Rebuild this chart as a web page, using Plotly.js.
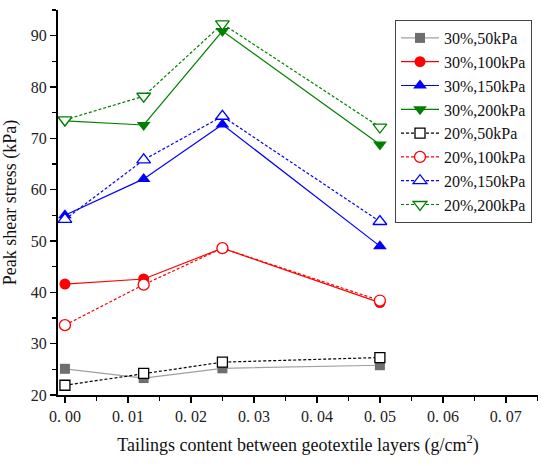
<!DOCTYPE html>
<html>
<head>
<meta charset="utf-8">
<script src="https://cdn.plot.ly/plotly-3.0.1.min.js"></script>
<style>
html,body{margin:0;padding:0;background:#fff}
#chart{width:550px;height:466px}
</style>
</head>
<body>
<div id="chart"></div>
<script>
// Tailings content (g/cm2)
var tailings = [0, 0.0125, 0.025, 0.05];

var s30_50  = [25.1, 23.3, 25.2, 25.8];
var s30_100 = [41.6, 42.6, 48.6, 38.0];
var s30_150 = [55.0, 62.1, 72.7, 49.0];
var s30_200 = [73.4, 72.6, 90.9, 68.8];
var s20_50  = [21.9, 24.2, 26.4, 27.3];
var s20_100 = [33.6, 41.5, 48.6, 38.4];
var s20_150 = [54.2, 65.8, 74.3, 53.8];
var s20_200 = [73.6, 78.2, 92.3, 72.2];

var seriesNames = ['30%,50kPa','30%,100kPa','30%,150kPa','30%,200kPa',
                   '20%,50kPa','20%,100kPa','20%,150kPa','20%,200kPa'];

var xTickVals = [0, 0.01, 0.02, 0.03, 0.04, 0.05, 0.06, 0.07];
var xTickText = ['0. 00','0. 01','0. 02','0. 03','0. 04','0. 05','0. 06','0. 07'];
var yTickVals = [20, 30, 40, 50, 60, 70, 80, 90];

var FONT = '"Liberation Serif", "Times New Roman", serif';

function solid(y, name, lineColor, markerColor, symbol, size) {
  return {x: tailings, y: y, name: name, type: 'scatter', mode: 'lines+markers',
    line: {color: lineColor, width: 1.2},
    marker: {symbol: symbol, size: size, color: markerColor, line: {width: 0}}};
}
function open(y, name, color, symbol, size) {
  return {x: tailings, y: y, name: name, type: 'scatter', mode: 'lines+markers',
    line: {color: color, width: 1.2, dash: '3px,2px'},
    marker: {symbol: symbol, size: size, color: '#ffffff', line: {color: color, width: 1.3}}};
}

var data = [
  solid(s30_50,  seriesNames[0], '#a0a0a0', '#6e6e6e', 'square', 10),
  solid(s30_100, seriesNames[1], '#ff0000', '#ff0000', 'circle', 11),
  solid(s30_150, seriesNames[2], '#0000ff', '#0000ff', 'triangle-up', 12),
  solid(s30_200, seriesNames[3], '#008000', '#008000', 'triangle-down', 12),
  open(s20_50,  seriesNames[4], '#000000', 'square', 10),
  open(s20_100, seriesNames[5], '#ff0000', 'circle', 11),
  open(s20_150, seriesNames[6], '#0000ff', 'triangle-up', 12),
  open(s20_200, seriesNames[7], '#008000', 'triangle-down', 12)
];

var layout = {
  width: 550, height: 466,
  margin: {l: 58, r: 12, t: 10, b: 71},
  paper_bgcolor: '#ffffff', plot_bgcolor: '#ffffff',
  font: {family: FONT, size: 16, color: '#222'},
  showlegend: true,
  legend: {x: 0.9875, xanchor: 'right', y: 0.974, yanchor: 'top',
    bgcolor: '#ffffff', bordercolor: '#444', borderwidth: 1, itemwidth: 38,
    font: {family: FONT, size: 16, color: '#111'}, tracegroupgap: 0},
  xaxis: {
    range: [-0.0011, 0.0751], tickmode: 'array', tickvals: xTickVals, ticktext: xTickText,
    showline: true, linecolor: '#000', linewidth: 2, mirror: false,
    ticks: 'outside', ticklen: 6, tickwidth: 1.5, tickcolor: '#000',
    minor: {dtick: 0.005, ticks: 'outside', ticklen: 4, tickwidth: 1.5, tickcolor: '#000', showgrid: false},
    showgrid: false, zeroline: false,
    tickfont: {family: FONT, size: 16, color: '#222'},
    title: {text: 'Tailings content between geotextile layers (g/cm<sup>2</sup>)', font: {family: FONT, size: 18, color: '#111'}, standoff: 14}
  },
  yaxis: {
    range: [20, 95], tickmode: 'array', tickvals: yTickVals,
    showline: true, linecolor: '#000', linewidth: 2, mirror: false,
    ticks: 'outside', ticklen: 6, tickwidth: 1.5, tickcolor: '#000',
    minor: {dtick: 5, ticks: 'outside', ticklen: 4, tickwidth: 1.5, tickcolor: '#000', showgrid: false},
    showgrid: false, zeroline: false,
    tickfont: {family: FONT, size: 16, color: '#222'},
    title: {text: 'Peak shear stress (kPa)', font: {family: FONT, size: 18, color: '#111'}, standoff: 10}
  }
};

Plotly.newPlot('chart', data, layout, {displayModeBar: false, staticPlot: true});
</script>
</body>
</html>
